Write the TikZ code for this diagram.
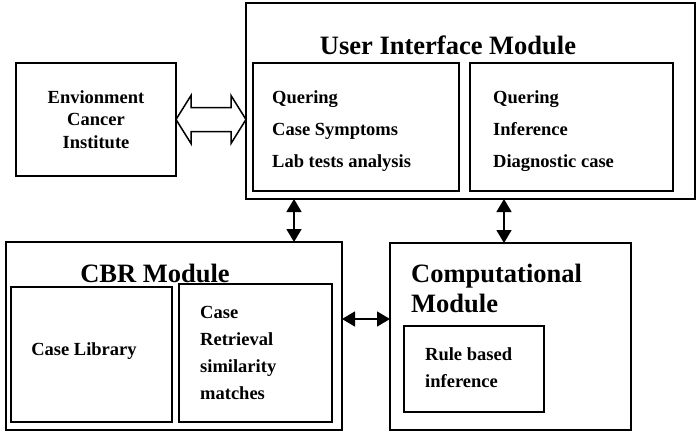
\documentclass[tikz,border=0pt]{standalone}
\usepackage{fontspec}
\setmainfont{Liberation Serif}
\usetikzlibrary{arrows.meta,calc}

\begin{document}
\begin{tikzpicture}[x=1pt,y=-1pt,
	box/.style={draw,line width=1.5pt,inner sep=0pt,outer sep=0pt},
	body/.style={font=\bfseries\fontsize{18.5}{22.5}\selectfont,inner sep=0pt},
	title/.style={font=\bfseries\fontsize{26.5}{30}\selectfont,inner sep=0pt},
	link/.style={line width=1.5pt,{Triangle[length=13pt,width=15pt]}-{Triangle[length=13pt,width=15pt]}}]

	\useasboundingbox (0,0) rectangle (697,432);

		% Environment
        \node[box,body,align=center,minimum width=160pt,minimum height=113pt] (env) at (96,119.5) {Envionment\\Cancer\\Institute};

		% User Interface Module
        \node[box,minimum width=449pt,minimum height=196pt] (ui) at (470.5,101) {};
        \node[title] (ui-title) at (448,45) {User Interface Module};
        \node[box,minimum width=206pt,minimum height=128pt] (ui-left) at (356,127) {};
        \node[box,minimum width=203pt,minimum height=128pt] (ui-right) at (571.5,127) {};
        \node[body,align=left,anchor=west,font=\bfseries\fontsize{18.5}{32}\selectfont] (ui-left-text) at (272,131) {Quering\\Case Symptoms\\Lab tests analysis};
        \node[body,align=left,anchor=west,font=\bfseries\fontsize{18.5}{32}\selectfont] (ui-right-text) at (493,131) {Quering\\Inference\\Diagnostic case};

		% CBR Module
        \node[box,minimum width=336pt,minimum height=188pt] (cbr) at (174,336) {};
        \node[title] (cbr-title) at (155,273) {CBR Module};
        \node[box,minimum width=161pt,minimum height=135pt] (cbr-lib) at (91.5,354.5) {};
        \node[body] (cbr-lib-text) at (84,351) {Case Library};
        \node[box,minimum width=153pt,minimum height=138pt] (cbr-ret) at (255.5,353) {};
        \node[body,align=left,anchor=west,font=\bfseries\fontsize{18.5}{26.7}\selectfont] (cbr-ret-text) at (200,353) {Case\\Retrieval\\similarity\\matches};

		% Computational Module
        \node[box,minimum width=241pt,minimum height=187pt] (comp) at (510.5,336.5) {};
        \node[title,align=left,anchor=west] (comp-title) at (411,288) {Computational\\Module};
        \node[box,minimum width=140pt,minimum height=86pt] (comp-rule) at (474,369) {};
        \node[body,align=left,anchor=west,font=\bfseries\fontsize{18.5}{27}\selectfont] (comp-rule-text) at (425,367.5) {Rule based\\inference};

		% connections
		\draw[line width=1.5pt] (env.east) -- ++(15,-24) -- ++(0,12) -- ++(40,0) -- ++(0,-12)
			-- (ui.west |- env.east) -- ++(-15,24) -- ++(0,-12) -- ++(-40,0) -- ++(0,12) -- cycle;
    	\draw[link] (294,0 |- ui.south) -- (294,0 |- cbr.north);
    	\draw[link] (504,0 |- ui.south) -- (504,0 |- comp.north);
    	\draw[link] (cbr.east |- 0,319) -- (comp.west |- 0,319);

\end{tikzpicture}
\end{document}
